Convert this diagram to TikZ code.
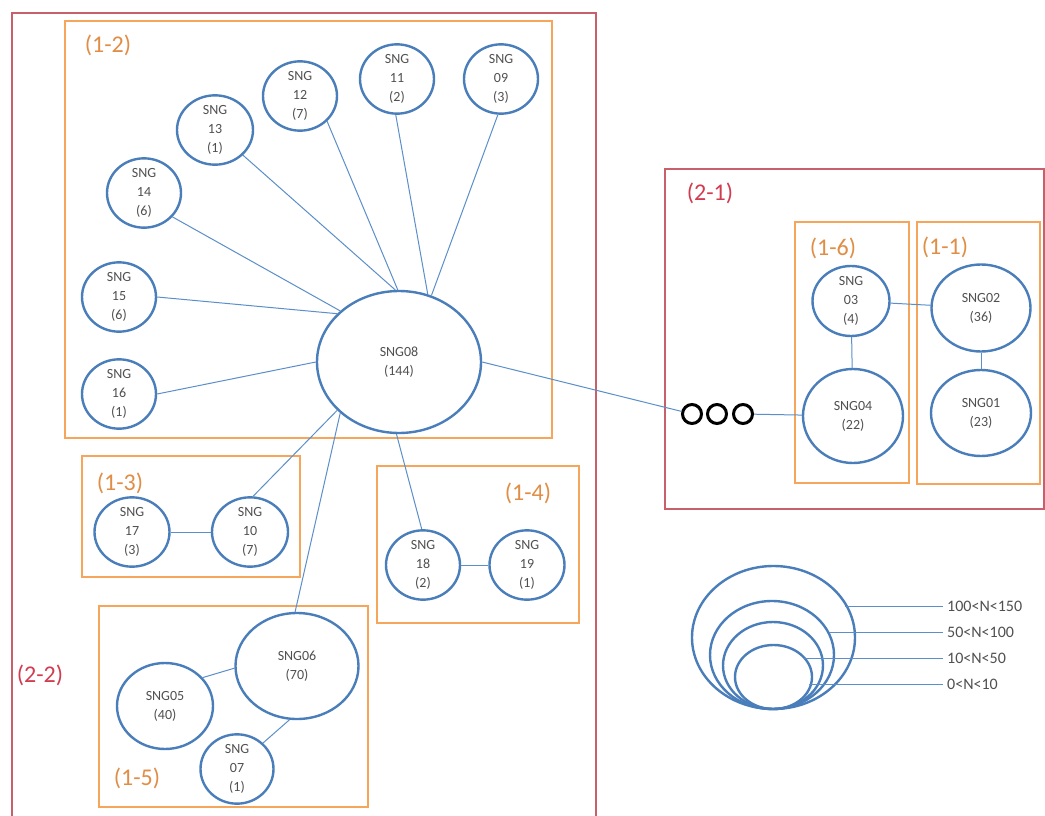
\documentclass[tikz,border=0pt]{standalone}
\usepackage{fontspec}
\setmainfont{Carlito}
\usetikzlibrary{shapes.geometric}
\definecolor{nodeblue}{HTML}{4A7EBB}
\definecolor{linkblue}{HTML}{5B8FC9}
\definecolor{boxorange}{HTML}{F5A65B}
\definecolor{txtorange}{HTML}{E08E45}
\definecolor{boxred}{HTML}{C8606B}
\definecolor{txtred}{HTML}{D23C50}
\definecolor{txtgray}{HTML}{505050}
\begin{document}
\begin{tikzpicture}[x=1pt,y=-1pt,
  sng/.style 2 args={ellipse, draw=nodeblue, line width=2.4pt, fill=white, inner sep=0pt,
    minimum width=#1pt, minimum height=#2pt, align=center, text=txtgray,
    font=\fontsize{14}{19}\selectfont},
  ring/.style 2 args={ellipse, draw=nodeblue, line width=2.4pt, inner sep=0pt,
    minimum width=#1pt, minimum height=#2pt},
  link/.style={draw=linkblue, line width=1pt},
  obox/.style={draw=boxorange, line width=2.8pt},
  rbox/.style={draw=boxred, line width=2.8pt},
  grp/.style={text=txtorange, inner sep=0pt, font=\fontsize{24}{28}\selectfont},
  rgrp/.style={text=txtred, inner sep=0pt, font=\fontsize{24}{28}\selectfont},
  dot/.style={circle, draw=black, line width=3pt, minimum size=19pt, inner sep=0pt},
  leg/.style={anchor=west, inner sep=0pt, text=txtgray, font=\fontsize{16}{19}\selectfont}
]
\useasboundingbox (0,0) rectangle (1045,816);
\fill[white] (0,0) rectangle (1045,816);

% group frames
\draw[rbox] (12,830) -- (12,13) -- (596,13) -- (596,830);
\draw[rbox] (665,169) rectangle (1044,509);
\draw[obox] (65,21) rectangle (552,438);
\draw[obox] (82,456) rectangle (300,577);
\draw[obox] (377,466) rectangle (579,623);
\draw[obox] (99,606) rectangle (368,807);
\draw[obox] (795,222) rectangle (909,483);
\draw[obox] (917,222) rectangle (1040,484);

% group labels
\node[grp] (g12) at (108,45) {(1-2)};
\node[grp] (g13) at (120,483) {(1-3)};
\node[grp] (g14) at (528,493) {(1-4)};
\node[grp] (g15) at (137,778) {(1-5)};
\node[grp] (g16) at (833,248) {(1-6)};
\node[grp] (g11) at (945,247) {(1-1)};
\node[rgrp] (g21) at (710,193) {(2-1)};
\node[rgrp] (g22) at (40,675) {(2-2)};

% nodes
\node[sng={164}{142}] (n08) at (399,362) {SNG08\\(144)};
\node[sng={74}{64}] (n09) at (501,79) {SNG\\09\\(3)};
\node[sng={74}{64}] (n11) at (397,79) {SNG\\11\\(2)};
\node[sng={74}{66}] (n12) at (300,96) {SNG\\12\\(7)};
\node[sng={76}{66}] (n13) at (215,130) {SNG\\13\\(1)};
\node[sng={74}{64}] (n14) at (144,193) {SNG\\14\\(6)};
\node[sng={74}{64}] (n15) at (119,297) {SNG\\15\\(6)};
\node[sng={74}{64}] (n16) at (119,394) {SNG\\16\\(1)};
\node[sng={75}{64}] (n17) at (132,532) {SNG\\17\\(3)};
\node[sng={76}{64}] (n10) at (250,532) {SNG\\10\\(7)};
\node[sng={74}{60}] (n18) at (423,565) {SNG\\18\\(2)};
\node[sng={75}{60}] (n19) at (527,565) {SNG\\19\\(1)};
\node[sng={123}{106}] (n06) at (297,666) {SNG06\\(70)};
\node[sng={96}{86}] (n05) at (165,706) {SNG05\\(40)};
\node[sng={73}{64}] (n07) at (237,769) {SNG\\07\\(1)};
\node[sng={77}{70}] (n03) at (851,301) {SNG\\03\\(4)};
\node[sng={100}{94}] (n04) at (853,416) {SNG04\\(22)};
\node[sng={99}{87}] (n02) at (981,308) {SNG02\\(36)};
\node[sng={100}{86}] (n01) at (981,413) {SNG01\\(23)};

\node[dot] (c1) at (692,414) {};
\node[dot] (c2) at (717,414) {};
\node[dot] (c3) at (743,414) {};

% connectors
\draw[link] (n13.318) -- (n08.93);
\draw[link] (n12.317) -- (n08.91);
\draw[link] (n11.268) -- (n08.67);
\draw[link] (n09.265) -- (n08.64);
\draw[link] (n14.320) -- (n08.139);
\draw[link] (n15.0) -- (n08.142);
\draw[link] (n16.0) -- (n08.180);
\draw[link] (n08.0) -- (c1);
\draw[link] (c3) -- (n04);
\draw[link] (n10.85) -- (n08.218);
\draw[link] (n06.92) -- (n08.221);
\draw[link] (n18.92) -- (n08.268);
\draw[link] (n17) -- (n10);
\draw[link] (n18) -- (n19);
\draw[link] (n05.37) -- (n06.182);
\draw[link] (n06.262) -- (n07.45);
\draw[link] (n03) -- (n02);
\draw[link] (n03) -- (n04);
\draw[link] (n02) -- (n01);

% legend
\node[ring={163}{143}] (r1) at (773.5,637.5) {};
\node[ring={124}{108}] (r2) at (772,655) {};
\node[ring={100}{87}] (r3) at (773,665.5) {};
\node[ring={77}{64}] (r4) at (773.5,677) {};
\node[leg] (l1) at (947,606) {100<N<150};
\node[leg] (l2) at (947,632) {50<N<100};
\node[leg] (l3) at (947,658) {10<N<50};
\node[leg] (l4) at (947,684) {0<N<10};
\coordinate (s1) at (845,606);
\coordinate (s2) at (829,632);
\coordinate (s3) at (804,658);
\coordinate (s4) at (809,684);
\draw[link] (s1) -- ([xshift=-4pt]l1.west);
\draw[link] (s2) -- ([xshift=-4pt]l2.west);
\draw[link] (s3) -- ([xshift=-4pt]l3.west);
\draw[link] (s4) -- ([xshift=-4pt]l4.west);
\end{tikzpicture}
\end{document}
